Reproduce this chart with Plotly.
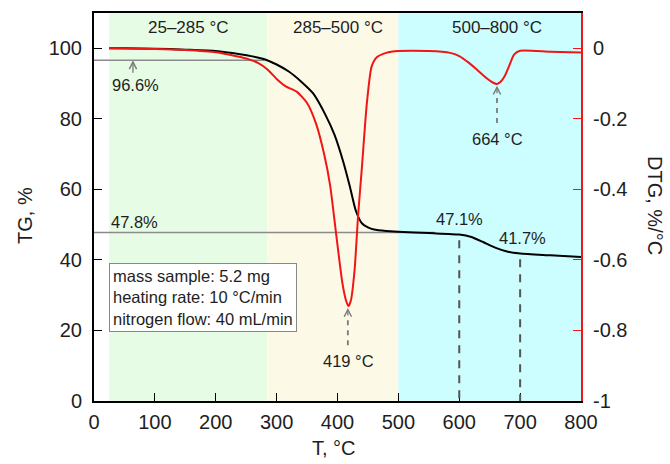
import plotly.graph_objects as go

# ---- data ----
tg_T = [25, 50, 100, 150, 200, 240, 260, 280, 300, 320, 340, 360, 380, 395, 410, 420, 430,
        440, 450, 460, 480, 500, 550, 600, 620, 640, 660, 680, 700, 750, 800]
tg_val = [100, 100, 99.9, 99.6, 99.2, 98.3, 97.7, 96.9, 95.4, 93.4, 90.6, 87.2, 81.2, 75.5,
          67.5, 61, 54, 50.4, 49.2, 48.6, 48.2, 48.0, 47.6, 47.2, 46.5, 45.0, 43.4, 42.3,
          41.8, 41.3, 40.8]

dtg_T = [25, 100, 150, 200, 225, 250, 270, 285, 300, 315, 333, 350, 365, 378, 388, 398, 408,
         414, 418, 422, 428, 434, 440, 448, 456, 465, 480, 500, 550, 585, 600, 615, 630, 645,
         655, 662, 668, 675, 682, 690, 700, 750, 800]
dtg_val = [0, -0.002, -0.005, -0.011, -0.019, -0.029, -0.042, -0.060, -0.087, -0.108, -0.123,
           -0.155, -0.215, -0.30, -0.39, -0.53, -0.665, -0.715, -0.731, -0.715, -0.63, -0.47,
           -0.34, -0.16, -0.052, -0.025, -0.013, -0.008, -0.008, -0.013, -0.022, -0.040,
           -0.062, -0.085, -0.097, -0.101, -0.095, -0.078, -0.050, -0.018, -0.007, -0.010,
           -0.012]

regions = [(25, 285, "#e6fce5", "25–285 °C", 155),
           (285, 500, "#fdf9e7", "285–500 °C", 400),
           (500, 800, "#ccfdff", "500–800 °C", 662)]

ref_levels = [96.6, 47.8]       # horizontal reference lines (TG, %)
ref_ends = [280, 560]
step_T = [600, 700]             # dashed verticals
step_TG = [47.1, 41.7]
peak_T = [419, 664]
peak_dtg = [-0.731, -0.101]

FONT = "Liberation Sans, Arial, sans-serif"
GRAY = "#7a7a7a"
RED = "#f01616"
TXT = "#1e1e1e"

fig = go.Figure()

shapes = []
annotations = []
for x0, x1, col, lab, xc in regions:
    shapes.append(dict(type="rect", xref="x", yref="paper", x0=x0, x1=x1, y0=0, y1=1,
                       fillcolor=col, line_width=0, layer="below"))
    annotations.append(dict(x=xc, y=106, xref="x", yref="y", text=lab, showarrow=False,
                            font=dict(size=17, color=TXT, family=FONT)))

for lvl, xe in zip(ref_levels, ref_ends):
    shapes.append(dict(type="line", xref="x", yref="y", x0=0, x1=xe, y0=lvl, y1=lvl,
                       line=dict(color="#8a8a8a", width=1.5), layer="below"))

for t, v in zip(step_T, step_TG):
    shapes.append(dict(type="line", xref="x", yref="y", x0=t, x1=t, y0=v - 1.5, y1=0,
                       line=dict(color="#555", width=2, dash="8px,7px")))

fig.add_trace(go.Scatter(x=tg_T, y=tg_val, mode="lines", line=dict(color="black", width=2,
                         shape="spline", smoothing=0.6), yaxis="y", showlegend=False))
fig.add_trace(go.Scatter(x=dtg_T, y=dtg_val, mode="lines", line=dict(color=RED, width=2,
                         shape="spline", smoothing=0.6), yaxis="y2", showlegend=False))

LBL = dict(size=16.5, color=TXT, family=FONT)
# arrow 96.6 %
annotations.append(dict(x=64, y=ref_levels[0], xref="x", yref="y", ax=0, ay=14, text="",
                        showarrow=True, arrowhead=5, arrowsize=1.1, arrowwidth=1.3,
                        arrowcolor=GRAY))
annotations.append(dict(x=68, y=89.6, xref="x", yref="y", text=f"{ref_levels[0]}%",
                        showarrow=False, font=LBL))
annotations.append(dict(x=67, y=50.8, xref="x", yref="y", text=f"{ref_levels[1]}%",
                        showarrow=False, font=LBL))
annotations.append(dict(x=600, y=51.6, xref="x", yref="y", text=f"{step_TG[0]}%",
                        showarrow=False, font=LBL))
annotations.append(dict(x=704, y=46.2, xref="x", yref="y", text=f"{step_TG[1]}%",
                        showarrow=False, font=LBL))

# peak arrows (dashed stem + open head)
for t, d in zip(peak_T, peak_dtg):
    tip = d - 0.005
    annotations.append(dict(x=t - 2, y=tip, xref="x", yref="y2", ax=0, ay=9, text="",
                            showarrow=True, arrowhead=5, arrowsize=1.1, arrowwidth=1.3,
                            arrowcolor=GRAY))
    shapes.append(dict(type="line", xref="x", yref="y2", x0=t - 2, x1=t - 2, y0=tip - 0.035,
                       y1=tip - 0.115, line=dict(color=GRAY, width=1.8, dash="5px,5px")))
    annotations.append(dict(x=t - 1, y=d - 0.155, xref="x", yref="y2", text=f"{t} °C",
                            showarrow=False, font=LBL))

# info box
annotations.append(dict(x=25, y=39.1, xref="x", yref="y", xanchor="left", yanchor="top",
                        text="mass sample: 5.2 mg<br>heating rate: 10 °C/min<br>nitrogen flow: 40 mL/min",
                        align="left", showarrow=False, bgcolor="white", bordercolor="#888",
                        borderwidth=1, borderpad=3,
                        font=dict(size=16.5, color=TXT, family=FONT)))

# axis titles
TTL = dict(size=20, color=TXT, family=FONT)
annotations.append(dict(x=-0.142, y=0.479, xref="paper", yref="paper", text="TG, %",
                        xanchor="center", yanchor="middle",
                        textangle=-90, showarrow=False, font=TTL))
annotations.append(dict(x=1.152, y=0.505, xref="paper", yref="paper", text="DTG, %/°C",
                        xanchor="center", yanchor="middle",
                        textangle=90, showarrow=False, font=TTL))
annotations.append(dict(x=0.493, y=-0.12, xref="paper", yref="paper", text="T, °C",
                        xanchor="center", yanchor="middle", showarrow=False, font=TTL))

fig.update_layout(
    width=670, height=464,
    margin=dict(l=94, r=89, t=13, b=63),
    plot_bgcolor="white", paper_bgcolor="white",
    font=dict(family=FONT, size=17, color=TXT),
    shapes=shapes, annotations=annotations,
    xaxis=dict(range=[0, 800], dtick=100, ticks="inside", ticklen=8, tickcolor="black",
               showline=True, linecolor="black", linewidth=2, mirror=True, showgrid=False,
               zeroline=False, tickfont=dict(size=20), ticklabelstandoff=2),
    yaxis=dict(range=[0, 110], tickvals=[0, 20, 40, 60, 80, 100], ticks="inside", ticklen=8,
               tickcolor="black", showline=True, linecolor="black", linewidth=2,
               showgrid=False, zeroline=False, tickfont=dict(size=20), ticklabelstandoff=6),
    yaxis2=dict(range=[-1, 0.1], overlaying="y", side="right",
                tickvals=[-1, -0.8, -0.6, -0.4, -0.2, 0],
                ticktext=["-1", "-0.8", "-0.6", "-0.4", "-0.2", "0"],
                ticks="inside", ticklen=8, tickcolor=RED, showline=True, linecolor=RED,
                linewidth=2, showgrid=False, zeroline=False, tickfont=dict(size=20),
                ticklabelstandoff=6),
)

fig.write_html("out.html")
